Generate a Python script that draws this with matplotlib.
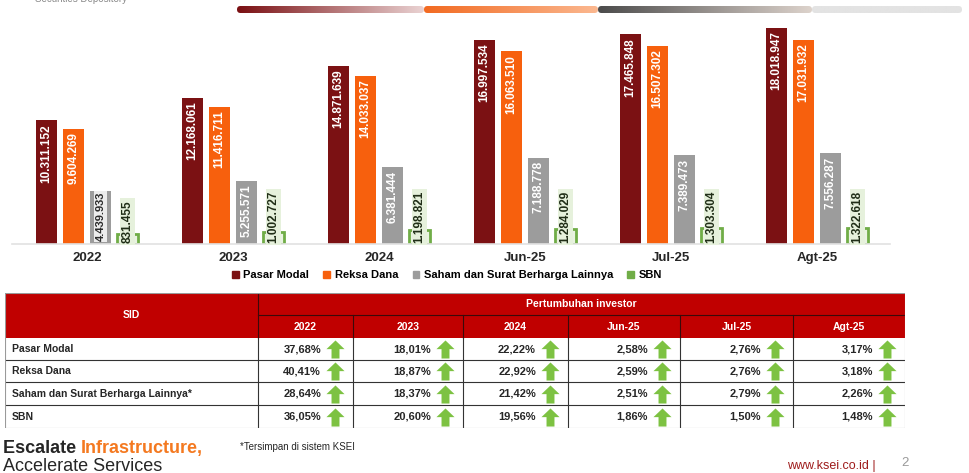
import matplotlib
matplotlib.use('Agg')
import matplotlib.pyplot as plt
import numpy as np
from matplotlib.patches import Rectangle, FancyBboxPatch
from matplotlib.path import Path
from matplotlib.colors import LinearSegmentedColormap

plt.rcParams['font.family'] = ['Liberation Sans', 'DejaVu Sans']

# data
periods = ['2022', '2023', '2024', 'Jun-25', 'Jul-25', 'Agt-25']
series = ['Pasar Modal', 'Reksa Dana', 'Saham dan Surat Berharga Lainnya', 'SBN']
pasar_modal = [10311152, 12168061, 14871639, 16997534, 17465848, 18018947]
reksa_dana = [9604269, 11416711, 14033037, 16063510, 16507302, 17031932]
saham = [4439933, 5255571, 6381444, 7188778, 7389473, 7556287]
sbn = [831455, 1002727, 1198821, 1284029, 1303304, 1322618]

growth_pasar = ['37,68%', '18,01%', '22,22%', '2,58%', '2,76%', '3,17%']
growth_reksa = ['40,41%', '18,87%', '22,92%', '2,59%', '2,76%', '3,18%']
growth_saham = ['28,64%', '18,37%', '21,42%', '2,51%', '2,79%', '2,26%']
growth_sbn = ['36,05%', '20,60%', '19,56%', '1,86%', '1,50%', '1,48%']
row_names = ['Pasar Modal', 'Reksa Dana', 'Saham dan Surat Berharga Lainnya*', 'SBN']

colors = ['#7b1113', '#f7600d', '#9c9c9c', '#70ad47']

W, H = 970, 473
fig = plt.figure(figsize=(W / 100, H / 100), dpi=100)

def fx(px):
    return px / W

def fy(py):
    return 1 - py / H

# background axes in pixel coords (progress bar)
bg = fig.add_axes([0, 0, 1, 1])
bg.set_xlim(0, W)
bg.set_ylim(H, 0)
bg.axis('off')

segs = [(237, 424, '#7a0f12', '#ead3d3'),
        (424, 598, '#f26a21', '#fbb890'),
        (598, 812, '#4b4b4b', '#ddd3cc'),
        (812, 962, '#e3e3e3', '#e3e3e3')]
for x0, x1, c0, c1 in segs:
    cmap = LinearSegmentedColormap.from_list('g', [c0, c1])
    grad = np.linspace(0, 1, 256).reshape(1, -1)
    im = bg.imshow(grad, cmap=cmap, extent=(x0, x1, 13, 6), aspect='auto', zorder=2)
    clip = FancyBboxPatch((x0, 6), x1 - x0, 7, boxstyle='round,pad=0,rounding_size=3.5',
                          transform=bg.transData, facecolor='none', edgecolor='none')
    bg.add_patch(clip)
    im.set_clip_path(clip)

fig.text(fx(35), 1.003, 'Securities Depository', fontsize=7, color='#8a8a8a', va='center')

# bar chart
ax = fig.add_axes([fx(12), fy(244), fx(890 - 12), fy(20) - fy(244)])
x = np.arange(len(periods))
bw = 0.144
step = 0.185
data = [pasar_modal, reksa_dana, saham, sbn]

def fmt(v):
    return f'{v:,}'.replace(',', '.')

for i, vals in enumerate(data):
    xs = x + (i - 1.5) * step
    if i == 3:
        ax.bar(xs, vals, bw, color='#e9f3e1', edgecolor=colors[3], linewidth=2, zorder=2)
    else:
        ax.bar(xs, vals, bw, color=colors[i], zorder=2)
    for j, v in enumerate(vals):
        if i == 3:
            ax.text(xs[j], 0.1e6, fmt(v), rotation=90, ha='center', va='bottom',
                    fontsize=8.5, fontweight='bold', color='#1f2d16', zorder=4,
                    bbox=dict(boxstyle='square,pad=0.15', facecolor='#e6f1dc', edgecolor='none'))
        elif i == 2 and j == 0:
            ax.text(xs[j], v - 0.1e6, fmt(v), rotation=90, ha='center', va='top',
                    fontsize=8, fontweight='bold', color='#2a2a2a', zorder=4,
                    bbox=dict(boxstyle='square,pad=0.1', facecolor='#ececec', edgecolor='none'))
        else:
            ax.text(xs[j], v - 0.3e6, fmt(v), rotation=90, ha='center', va='top',
                    fontsize=8.5, fontweight='bold', color='white', zorder=4)

ax.set_xlim(-0.514, 5.5)
ax.set_ylim(0, 18.67e6)
ax.set_xticks(x)
ax.set_xticklabels(periods, fontsize=9.5, fontweight='bold', color='#262626')
ax.tick_params(axis='x', length=0, pad=6)
ax.set_yticks([])
for s in ['top', 'right', 'left']:
    ax.spines[s].set_visible(False)
ax.spines['bottom'].set_color('#e2e2e2')
ax.spines['bottom'].set_linewidth(1.2)
ax.patch.set_alpha(0)

handles = [Rectangle((0, 0), 1, 1, color=c) for c in colors]
fig.legend(handles, series, loc='center', bbox_to_anchor=(fx(447), fy(275)), ncol=4,
           frameon=False, handlelength=0.6, handleheight=0.6,
           handletextpad=0.4, columnspacing=1.3, prop={'weight': 'bold', 'size': 8})

# table
col_edges = [5, 258, 353, 463, 568, 680, 793, 905]
row_edges = [293, 315, 338, 360, 382, 405, 428]
red = '#c00000'
tb = fig.add_axes([fx(5), fy(428), fx(905 - 5), fy(293) - fy(428)])
tb.set_xlim(5, 905)
tb.set_ylim(428, 293)
tb.axis('off')

tb.add_patch(Rectangle((5, 293), 900, 45, facecolor=red, edgecolor='none'))
tb.add_patch(Rectangle((5, 338), 900, 90, facecolor='white', edgecolor='none'))
# header lines
tb.plot([258, 258], [293, 338], color='#3a0a0a', lw=0.8)
tb.plot([258, 905], [315, 315], color='#3a0a0a', lw=0.8)
for c in col_edges[2:-1]:
    tb.plot([c, c], [315, 338], color='#3a0a0a', lw=0.8)
# body lines
for r in row_edges[3:-1]:
    tb.plot([5, 905], [r, r], color='#333333', lw=0.8)
for c in col_edges[1:-1]:
    tb.plot([c, c], [338, 428], color='#333333', lw=0.8)
tb.plot([5, 905, 905, 5, 5], [293, 293, 428, 428, 293], color='#9a9a9a', lw=0.8)

tb.text((5 + 258) / 2, 315, 'SID', ha='center', va='center', color='white',
        fontsize=7.5, fontweight='bold')
tb.text((258 + 905) / 2, 304, 'Pertumbuhan investor', ha='center', va='center',
        color='white', fontsize=7.5, fontweight='bold')
for k, p in enumerate(periods):
    tb.text((col_edges[k + 1] + col_edges[k + 2]) / 2, 326.5, p, ha='center', va='center',
            color='white', fontsize=7.5, fontweight='bold')

arrow = Path([(-0.5, 0.02), (0, 0.5), (0.5, 0.02), (0.22, 0.02), (0.22, -0.5),
              (-0.22, -0.5), (-0.22, 0.02), (-0.5, 0.02)],
             [Path.MOVETO] + [Path.LINETO] * 6 + [Path.CLOSEPOLY])

table_rows = [growth_pasar, growth_reksa, growth_saham, growth_sbn]
for r, (name, vals) in enumerate(zip(row_names, table_rows)):
    yc = (row_edges[r + 2] + row_edges[r + 3]) / 2
    tb.text(12, yc, name, ha='left', va='center', fontsize=7.5, fontweight='bold',
            color='#262626')
    for k, v in enumerate(vals):
        right = col_edges[k + 2]
        tb.text(right - 32, yc, v, ha='right', va='center', fontsize=8,
                fontweight='bold', color='#262626')
        tb.plot(right - 18, yc, marker=arrow, markersize=13, color='#7dc242',
                markeredgewidth=0)

# footer
t1 = fig.text(fx(3), fy(448), 'Escalate ', fontsize=13, fontweight='bold',
              color='#262626', va='center')
fig.canvas.draw()
bb = t1.get_window_extent()
fig.text(bb.x1 / W, fy(448), 'Infrastructure,', fontsize=13, fontweight='bold',
         color='#f47920', va='center')
fig.text(fx(3), fy(466), 'Accelerate Services', fontsize=13, color='#262626', va='center')
fig.text(fx(240), fy(447), '*Tersimpan di sistem KSEI', fontsize=7, color='#262626',
         va='center')
fig.text(fx(876), fy(466), 'www.ksei.co.id |', fontsize=9, color='#9e1b1b',
         va='center', ha='right')
fig.text(fx(905), fy(463), '2', fontsize=9.5, color='#9a9a9a', va='center', ha='center')

fig.savefig('out.png', dpi=100, facecolor='white')
